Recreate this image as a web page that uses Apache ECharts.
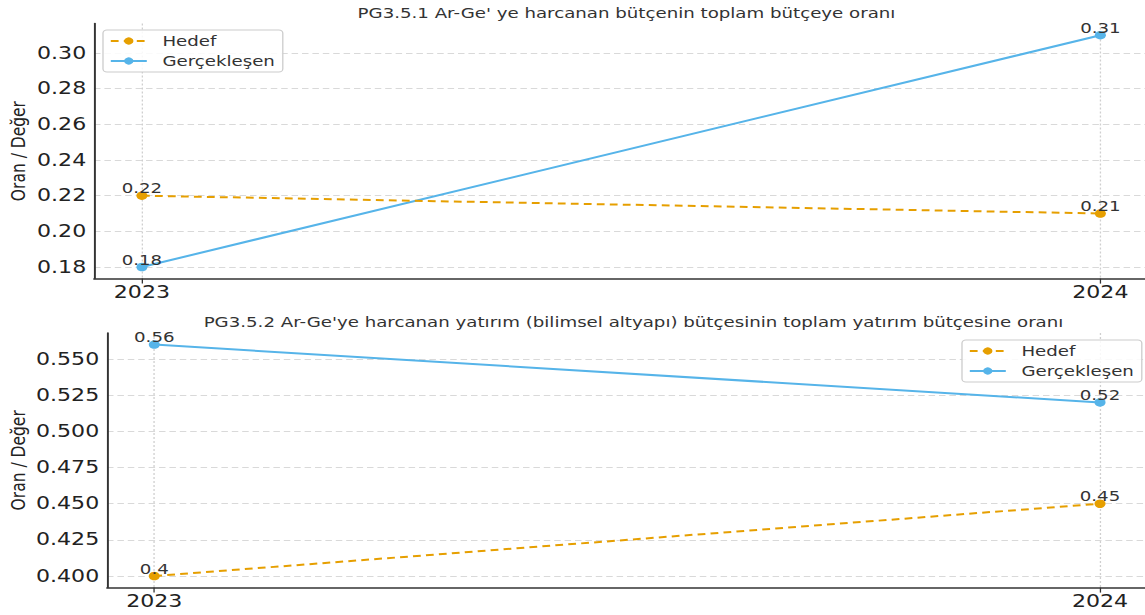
<!DOCTYPE html>
<html><head><meta charset="utf-8">
<script src="https://cdn.jsdelivr.net/npm/echarts@6/dist/echarts.min.js"></script>
<style>html,body{margin:0;padding:0;background:#fff;overflow:hidden}
#c{height:615px;transform-origin:0 0}</style>
</head><body><div id="c"></div>
<script>
const years = [2023, 2024];
const title1 = "PG3.5.1 Ar-Ge' ye harcanan bütçenin toplam bütçeye oranı";
const title2 = "PG3.5.2 Ar-Ge'ye harcanan yatırım (bilimsel altyapı) bütçesinin toplam yatırım bütçesine oranı";
const hedef1 = [0.22, 0.21];
const gercek1 = [0.18, 0.31];
const hedef2 = [0.40, 0.45];
const gercek2 = [0.56, 0.52];
const yTicks1 = [0.18, 0.20, 0.22, 0.24, 0.26, 0.28, 0.30];
const yTicks2 = [0.400, 0.425, 0.450, 0.475, 0.500, 0.525, 0.550];
const seriesNames = ['Hedef', 'Gerçekleşen'];

// The reference figure is horizontally stretched; render narrower and stretch with CSS.
const S = 1.3;
const W = 1145;
const el = document.getElementById('c');
el.style.width = (W / S) + 'px';
el.style.transform = 'scaleX(' + S + ')';
const px = x => x / S;

const C_H = '#E69F00', C_G = '#56B4E9';
const FONT = 'DejaVu Sans';
const chart = echarts.init(el, null, {renderer: 'svg'});

function pairs(v){ return years.map((y,i)=>[y, v[i]]); }
function pad(arr){ const lo=Math.min(...arr), hi=Math.max(...arr), d=(hi-lo)*0.05; return [lo-d, hi+d]; }

const r1 = pad(hedef1.concat(gercek1));
const r2 = pad(hedef2.concat(gercek2));

function xAxis(gi){
  return {
    type:'value', gridIndex:gi, min:2022.95, max:2024.05,
    axisLine:{show:true, onZero:false, lineStyle:{color:'#333', width:1.5}},
    axisTick:{show:true, customValues: years, length:5, lineStyle:{color:'#333'}},
    axisLabel:{customValues: years, fontFamily:FONT, fontSize:17, color:'#222', margin:5, formatter:v=>String(Math.round(v))},
    splitLine:{show:true, lineStyle:{color:'#cfcfcf', type:[2,2], width:1}}
  };
}
function yAxis(gi, r, ticks, dec, gap){
  return {
    type:'value', gridIndex:gi, min:r[0], max:r[1],
    name:'Oran / Değer', nameLocation:'middle', nameGap:gap, nameRotate:90, nameMoveOverlap:false,
    nameTextStyle:{fontFamily:FONT, fontSize:15.5, color:'#222'},
    axisLine:{show:true, lineStyle:{color:'#333', width:1.5}},
    axisTick:{show:false, customValues: ticks},
    axisLabel:{customValues: ticks, fontFamily:FONT, fontSize:17, color:'#222', margin:6, formatter:v=>v.toFixed(dec)},
    splitLine:{show:true, lineStyle:{color:'#d9d9d9', type:[5,3], width:1}}
  };
}
function series(name, vals, gi, color, dashed){
  return {
    type:'line', name, xAxisIndex:gi, yAxisIndex:gi, data:pairs(vals),
    symbol:'circle', symbolSize:8.5, color,
    lineStyle:{color, width:2, type: dashed ? [6,4] : 'solid'},
    itemStyle:{color},
    label:{show:true, position:'top', distance:0, offset:[0,4], fontFamily:FONT, fontSize:14, color:'#333',
      formatter:p=>String(p.value[1])},
    z: dashed ? 3 : 2
  };
}
const legendCommon = {
  orient:'vertical', itemWidth:px(36), itemHeight:9, itemGap:6,
  backgroundColor:'rgba(255,255,255,0.85)', borderColor:'#cccccc', borderWidth:1, borderRadius:3,
  padding:[4,6,4,5], textStyle:{fontFamily:FONT, fontSize:14, color:'#333', padding:[0,0,0,7]}, data: seriesNames
};
const gridCommon = {containLabel:false, outerBoundsMode:'none'};
chart.setOption({
  animation:false,
  title:[
    {text:title1, left:px(620), textAlign:'center', top:1, textStyle:{fontFamily:FONT, fontSize:14, fontWeight:'normal', color:'#333'}},
    {text:title2, left:px(627), textAlign:'center', top:310, textStyle:{fontFamily:FONT, fontSize:14, fontWeight:'normal', color:'#333'}}
  ],
  grid:[
    Object.assign({left:px(94), right:px(-3), top:23.6, height:255}, gridCommon),
    Object.assign({left:px(107), right:px(-2), top:333, height:254.6}, gridCommon)
  ],
  xAxis:[xAxis(0), xAxis(1)],
  yAxis:[yAxis(0, r1, yTicks1, 2, 50.5), yAxis(1, r2, yTicks2, 3, 60.5)],
  legend:[
    Object.assign({left:px(103), top:30}, legendCommon),
    Object.assign({left:px(962), top:340}, legendCommon)
  ],
  series:[
    series('Hedef', hedef1, 0, C_H, true),
    series('Gerçekleşen', gercek1, 0, C_G, false),
    series('Hedef', hedef2, 1, C_H, true),
    series('Gerçekleşen', gercek2, 1, C_G, false)
  ]
});
</script></body></html>
